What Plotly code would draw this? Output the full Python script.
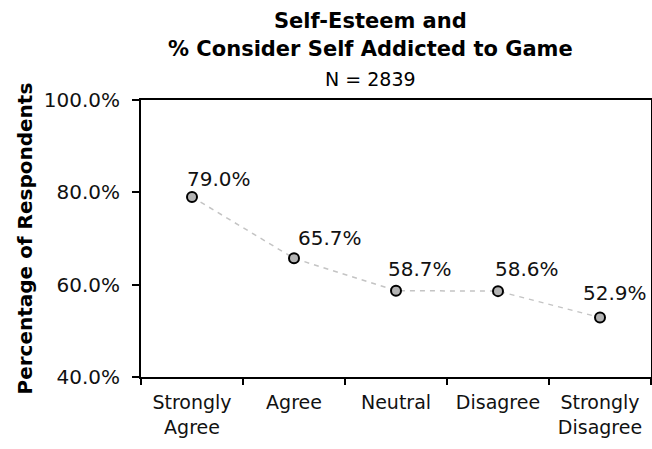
import plotly.graph_objects as go

# ---- data ----
categories = ["Strongly<br>Agree", "Agree", "Neutral", "Disagree", "Strongly<br>Disagree"]
values = [79.0, 65.7, 58.7, 58.6, 52.9]
y_ticks = [40, 60, 80, 100]
y_tick_labels = ["40.0%", "60.0%", "80.0%", "100.0%"]

title_line1 = "Self-Esteem and"
title_line2 = "% Consider Self Addicted to Game"
subtitle = "N = 2839"
y_title = "Percentage of Respondents"

# label placement offsets (px) relative to each point (styling)
label_dx = [27, 36, 24, 29, 15]
label_dy = [18, 20, 22, 22, 24]

FONT = "DejaVu Sans"

fig = go.Figure()
fig.add_trace(go.Scatter(
    x=categories, y=values, mode="lines+markers",
    line=dict(color="#c4c4c4", width=1.5, dash="5px,5px"),
    marker=dict(size=10, color="#b3b3b3", line=dict(color="#000000", width=2)),
    hoverinfo="skip", showlegend=False,
))

annotations = []
for c, v, dx, dy in zip(categories, values, label_dx, label_dy):
    annotations.append(dict(
        x=c, y=v, xref="x", yref="y", text=f"{v:.1f}%", showarrow=False,
        xanchor="center", yanchor="middle", xshift=dx, yshift=dy,
        font=dict(family=FONT, size=20, color="#111111"),
    ))

PLOT_L, PLOT_W = 141, 510
tx = (370 - PLOT_L) / PLOT_W
for text, size, bold, shift in [
    (title_line1, 21, True, 79),
    (title_line2, 21, True, 51),
    (subtitle, 19, False, 21),
]:
    annotations.append(dict(
        x=tx, y=1, xref="paper", yref="paper",
        text=f"<b>{text}</b>" if bold else text, showarrow=False,
        xanchor="center", yanchor="middle", yshift=shift,
        font=dict(family=FONT, size=size, color="#000000"),
    ))

annotations.append(dict(
    x=0, y=0.5, xref="paper", yref="paper", text=f"<b>{y_title}</b>",
    showarrow=False, textangle=-90, xanchor="center", yanchor="middle",
    xshift=-117, font=dict(family=FONT, size=20, color="#000000"),
))

fig.update_layout(
    template="none",
    width=652, height=449,
    margin=dict(l=PLOT_L, r=1, t=99.5, b=71.5, autoexpand=False),
    paper_bgcolor="white", plot_bgcolor="white",
    font=dict(family=FONT, color="#111111"),
    annotations=annotations,
)
fig.update_xaxes(
    type="category", range=[-0.5, 4.5], tickson="boundaries",
    showline=True, linecolor="black", linewidth=2, mirror=True,
    ticks="outside", ticklen=6, tickwidth=2, tickcolor="black",
    ticklabelstandoff=7,
    showgrid=False, zeroline=False, automargin=False,
    tickfont=dict(family=FONT, size=19, color="#111111"),
)
fig.update_yaxes(
    range=[40, 100], tickmode="array", tickvals=y_ticks, ticktext=y_tick_labels,
    showline=True, linecolor="black", linewidth=2, mirror=True,
    ticks="outside", ticklen=7, tickwidth=2, tickcolor="black",
    ticklabelstandoff=8, automargin=False,
    showgrid=False, zeroline=False,
    tickfont=dict(family=FONT, size=20, color="#111111"),
)

fig.write_html("out.html", config={"displayModeBar": False},
               post_script="document.body.style.margin='0';")
